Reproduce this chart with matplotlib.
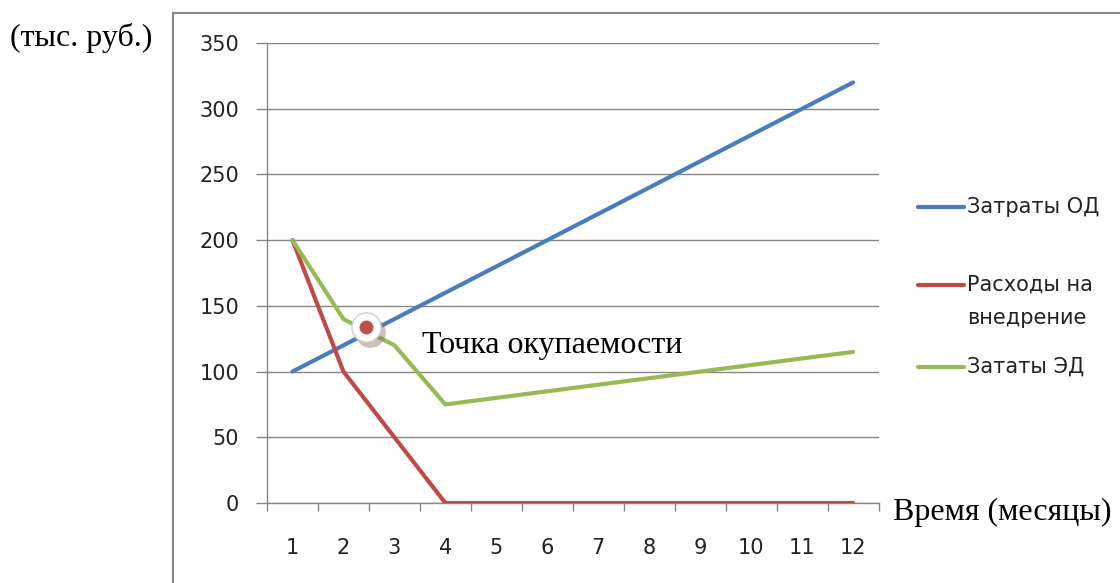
import matplotlib
matplotlib.use('Agg')
import matplotlib.pyplot as plt
from matplotlib.lines import Line2D
from matplotlib.patches import Rectangle
import numpy as np


months = list(range(1, 13))
costs_od = [100, 120, 140, 160, 180, 200, 220, 240, 260, 280, 300, 320]
impl_costs = [200, 100, 50, 0, 0, 0, 0, 0, 0, 0, 0, 0]
costs_ed = [200, 140, 120, 75, 80, 85, 90, 95, 100, 105, 110, 115]

series_names = ['Затраты ОД', 'Расходы на\nвнедрение', 'Зататы ЭД']
series_colors = ['#4A7EBB', '#BE4B48', '#98B954']

payback_x = 2.45
payback_y = 134

grid_gray = '#868686'
text_col = '#222222'
sans = ['DejaVu Sans']
serif = ['Liberation Serif', 'DejaVu Serif']

W, H = 1120, 583
fig = plt.figure(figsize=(W / 100, H / 100), dpi=100)
ax = fig.add_axes([0.2384, 0.1372, 0.5460, 0.7890])

for vals, col in zip([costs_od, impl_costs, costs_ed], series_colors):
    ax.plot(months, vals, color=col, lw=3.0, solid_capstyle='round', zorder=3)

# payback point marker with a soft shadow
ax.plot(payback_x + 0.08, payback_y - 4, 'o', ms=22, mfc='#8c6f6a', mec='none',
        alpha=0.45, zorder=4)
ax.plot(payback_x, payback_y, 'o', ms=21, mfc='white', mec='#d0d0d0', mew=1.0, zorder=5)
ax.plot(payback_x, payback_y, 'o', ms=10, mfc='#C0504D', mec='none', zorder=6)

ax.set_xlim(0.5, 12.5)
ax.set_ylim(0, 350)
ax.set_yticks(range(0, 351, 50))
ax.set_xticks(months)
ax.set_xticks(np.arange(0.5, 13, 1), minor=True)
ax.grid(axis='y', color=grid_gray, lw=1.0, zorder=0)
ax.set_axisbelow(True)

for s in ['top', 'right']:
    ax.spines[s].set_visible(False)
for s in ['left', 'bottom']:
    ax.spines[s].set_color(grid_gray)
    ax.spines[s].set_linewidth(1.0)

ax.tick_params(axis='y', length=8, width=1, color=grid_gray, pad=12,
               labelsize=15, labelcolor=text_col)
ax.tick_params(axis='x', which='major', length=0, pad=25.5,
               labelsize=15, labelcolor=text_col)
ax.tick_params(axis='x', which='minor', length=6, width=1, color=grid_gray)
for lbl in ax.get_xticklabels() + ax.get_yticklabels():
    lbl.set_family(sans)

# legend drawn by hand to keep Excel-like spacing
legend_rows = [207, 285, 367]
for name, col, y in zip(series_names, series_colors, legend_rows):
    fig.add_artist(Line2D([918 / W, 964 / W], [1 - y / H, 1 - y / H], color=col,
                          lw=3.0, solid_capstyle='round', transform=fig.transFigure))
    for k, part in enumerate(name.split('\n')):
        fig.text(967 / W, 1 - (y + 33 * k) / H, part, ha='left', va='center',
                 fontsize=15, family=sans, color=text_col)

fig.text(10 / W, 1 - 38 / H, '(тыс. руб.)', ha='left', va='center',
         fontsize=23, family=serif)
fig.text(893 / W, 1 - 512 / H, 'Время (месяцы)', ha='left', va='center',
         fontsize=23, family=serif)
fig.text(422 / W, 1 - 345 / H, 'Точка окупаемости', ha='left', va='center',
         fontsize=23, family=serif)

# outer chart frame, running off the right and bottom edges
fig.add_artist(Rectangle((173 / W, -0.05), 1.0, 1 - 13 / H + 0.05,
                         transform=fig.transFigure, fill=False,
                         edgecolor=grid_gray, lw=1.5))

fig.savefig('out.png', dpi=100)
